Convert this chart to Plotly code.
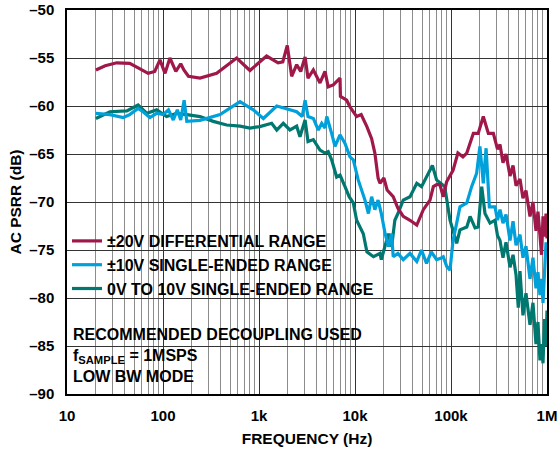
import plotly.graph_objects as go

# ±20V differential range
red_f = [20, 25, 33, 45, 57, 70, 82, 93, 105, 118, 136, 153, 165, 184, 243, 362, 585, 805,
         1200, 1400, 1580, 1770, 1970, 2190, 2470, 2720, 3020, 3240, 3680, 4320, 4870, 5260,
         5940, 6980, 7050, 8190, 8870, 10400, 11600, 13300, 14900, 16100, 17400, 18200, 20000,
         21600, 25000, 28000, 31800, 37400, 44000, 51500, 60400, 65500, 70800, 76700, 83100,
         90000, 105000, 118000, 133000, 146000, 171000, 192000, 217000, 245000, 276000,
         305000, 324000, 348000, 374000, 412000, 443000, 476000, 523000, 562000, 604000,
         665000, 714000, 768000, 805000, 845000, 877000, 909000, 942000, 977000, 1000000]
red_db = [-56.25, -55.8, -55.5, -55.55, -56.1, -56.6, -56.4, -55.2, -56.6, -55.0, -56.4, -55.6,
          -56.25, -56.9, -57.1, -56.6, -55.0, -56.3, -54.8, -55.2, -55.5, -55.4, -53.7, -56.9,
          -55.7, -56.4, -54.9, -57.1, -56.25, -57.6, -56.4, -58.0, -57.8, -57.1, -59.0, -59.4,
          -60.1, -61.1, -60.9, -62.15, -63.4, -64.9, -67.5, -68.05, -67.5, -68.75, -69.45, -70.65,
          -71.5, -71.9, -72.4, -70.8, -69.8, -68.4, -68.2, -68.2, -69.45, -67.9, -66.7, -64.9,
          -65.3, -64.9, -62.85, -62.85, -61.1, -62.85, -62.85,
          -64.5, -64.0, -65.9, -65.0, -67.3, -66.2, -68.3, -67.6, -69.6, -68.8,
          -71.5, -70.0, -73.0, -71.0, -73.5, -75.5, -71.5, -73.6, -71.2, -73.8]

# ±10V single-ended range
blue_f = [20, 28, 38.5, 45, 55, 62, 73, 86, 100, 114, 128, 141, 153, 166, 177, 243, 393, 634,
          872, 1110, 1530, 2100, 2470, 2820, 3020, 3240, 3680, 4150, 4500, 4870, 5080, 5710,
          6190, 6980, 7870, 8870, 9600, 10800, 12700, 13800, 14900, 16100, 17400, 18800, 20600,
          22300, 24100, 25000, 28000, 31800, 37400, 44000, 49300, 55600, 62400, 70800, 76700,
          83100, 90200, 97700, 105000, 114600, 124000, 146000, 164000, 185000, 200000, 217000,
          232000, 251000, 287000, 305000, 324000, 348000, 374000, 412000, 443000, 476000,
          523000, 562000, 604000, 665000, 714000, 768000, 805000, 845000, 877000, 909000,
          942000, 977000, 1000000]
blue_db = [-60.76, -60.9, -61.2, -60.9, -60.25, -60.6, -61.2, -60.76, -60.9, -60.4, -61.46, -60.4,
           -61.46, -59.4, -61.6, -61.5, -60.9, -59.55, -60.4, -61.3, -60.0, -60.4, -60.6, -61.1,
           -59.4, -61.1, -61.3, -62.5, -61.8, -62.3, -61.1, -62.85, -64.2, -63.0, -63.9, -65.3,
           -65.6, -67.7, -69.8, -71.2, -69.45, -70.8, -69.8, -71.2, -73.3, -74.65, -73.3, -75.7,
           -75.35, -76.0, -75.35, -76.2, -75.0, -76.4, -75.2, -76.0, -75.9, -75.7, -76.7, -77.1,
           -74.0, -72.2, -70.5, -70.1, -68.4, -67.0, -64.2, -68.05, -64.4, -70.5, -70.5,
           -71.9, -70.8, -72.2, -71.3, -74.0, -72.0, -74.5, -73.4, -75.8, -74.6, -78.0, -75.8,
           -79.0, -77.3, -79.7, -78.0, -80.5, -77.0, -74.2, -75.0]

# 0V to 10V single-ended range
teal_f = [20, 28, 42, 55, 68, 86, 109, 139, 177, 243, 334, 460, 634, 805, 1020, 1355, 1530,
          1790, 2100, 2470, 2670, 3020, 3240, 3680, 4320, 4870, 5260, 5710, 6440, 6980, 7870,
          8690, 9600, 10400, 12200, 13300, 15600, 18200, 18800, 20600, 22300, 24100, 26000,
          28000, 31800, 37400, 44000, 49300, 55600, 64000, 70800, 76700, 86000, 97700, 105000,
          114600, 124000, 146000, 158000, 178000, 192000, 209000, 226000, 255000, 287000,
          305000, 324000, 348000, 374000, 412000, 443000, 476000, 502000, 523000, 562000,
          604000, 665000, 714000, 768000, 805000, 845000, 877000, 909000, 942000, 977000, 1000000]
teal_db = [-61.3, -60.6, -60.5, -59.9, -60.76, -60.4, -61.1, -60.76, -60.9, -61.1, -61.6, -61.98,
           -62.1, -62.3, -62.15, -61.8, -62.5, -61.8, -62.5, -62.1, -63.2, -61.46, -63.7, -63.5,
           -64.6, -64.9, -64.75, -65.6, -67.4, -67.2, -68.4, -69.45, -70.1, -71.9, -73.3, -75.2,
           -75.7, -75.35, -76.0, -74.65, -73.3, -74.65, -71.9, -71.2, -69.8, -69.45, -68.05,
           -68.4, -67.4, -66.2, -67.7, -68.0, -68.4, -71.9, -72.9, -74.3, -72.9, -72.6, -71.5,
           -72.7, -72.6, -68.4, -71.2, -72.2, -71.9,
           -73.5, -74.0, -75.8, -74.2, -76.8, -75.5, -77.6, -81.0, -77.2, -81.8,
           -79.5, -82.8, -80.5, -84.8, -82.5, -86.5, -84.8, -86.8, -82.2, -85.0, -81.3]

x_tickvals = [10, 100, 1000, 10000, 100000, 1000000]
x_ticktext = ["10", "100", "1k", "10k", "100k", "1M"]
y_tickvals = [-90, -85, -80, -75, -70, -65, -60, -55, -50]
y_ticktext = ["\u201390", "\u201385", "\u201380", "\u201375", "\u201370", "\u201365",
              "\u201360", "\u201355", "\u201350"]


def bold(s):
    return "<b>" + s + "</b>"


RED = "#A0184A"
BLUE = "#00A0DA"
TEAL = "#00776F"
FONT = "Liberation Sans, Arial, sans-serif"

fig = go.Figure()
fig.add_trace(go.Scatter(x=teal_f, y=teal_db, mode="lines", name=bold("0V TO 10V SINGLE-ENDED RANGE"),
                         line=dict(color=TEAL, width=3.2), legendrank=3))
fig.add_trace(go.Scatter(x=blue_f, y=blue_db, mode="lines", name=bold("\u00b110V SINGLE-ENDED RANGE"),
                         line=dict(color=BLUE, width=3.2), legendrank=2))
fig.add_trace(go.Scatter(x=red_f, y=red_db, mode="lines", name=bold("\u00b120V DIFFERENTIAL RANGE"),
                         line=dict(color=RED, width=3.2), legendrank=1))

minor_vals = [m * 10 ** d for d in range(1, 6) for m in range(2, 10)]

# white background panels behind the legend and note (cover grid, stay under curves)
panel = dict(type="rect", xref="paper", yref="paper", fillcolor="white",
             line=dict(width=0), layer="between")
fig.add_shape(x0=0, x1=0.5604, y0=0.3099, y1=0.4323, **panel)
fig.add_shape(x0=0, x1=0.648, y0=0.25, y1=0.3099, **panel)
fig.add_shape(x0=0, x1=0.627, y0=0.018, y1=0.1927, **panel)

fig.update_layout(
    width=558, height=450,
    margin=dict(l=67, r=11, t=10, b=56, autoexpand=False),
    paper_bgcolor="white", plot_bgcolor="white",
    font=dict(family=FONT, size=15, color="black"),
    showlegend=True,
    legend=dict(x=0.0, y=0.4427, xanchor="left", yanchor="top", bgcolor="rgba(0,0,0,0)",
                borderwidth=0, font=dict(family=FONT, size=16, color="black"),
                traceorder="normal"),
    xaxis=dict(type="log", range=[1, 6], tickvals=x_tickvals,
               ticktext=[bold(t) for t in x_ticktext],
               tickfont=dict(family=FONT, size=15),
               showgrid=True, gridcolor="#333333", gridwidth=1,
               minor=dict(tickvals=minor_vals, showgrid=True, gridcolor="#8c8c8c", gridwidth=1),
               showline=True, mirror=True, linecolor="black", linewidth=1.5,
               ticks="", ticklabelstandoff=7, zeroline=False, automargin=False,
               title=dict(text=bold("FREQUENCY (Hz)"), standoff=10,
                          font=dict(family=FONT, size=15.5))),
    yaxis=dict(range=[-90, -50], tickvals=y_tickvals,
               ticktext=[bold(t) for t in y_ticktext],
               tickfont=dict(family=FONT, size=15),
               showgrid=True, gridcolor="#333333", gridwidth=1,
               showline=True, mirror=True, linecolor="black", linewidth=1.5,
               ticks="", ticklabelstandoff=8, zeroline=False, automargin=False,
               title=dict(text=bold("AC PSRR (dB)"), standoff=4,
                          font=dict(family=FONT, size=15.5))),
)

fig.add_annotation(
    xref="paper", yref="paper", x=0.008, y=0.183, xanchor="left", yanchor="top",
    text=bold("RECOMMENDED DECOUPLING USED<br>f<sub>SAMPLE</sub> = 1MSPS<br>LOW BW MODE"),
    align="left", showarrow=False, borderpad=1,
    font=dict(family=FONT, size=16, color="black"),
)

fig.write_html("out.html", config={"displayModeBar": False},
               post_script="document.body.style.margin='0';")
